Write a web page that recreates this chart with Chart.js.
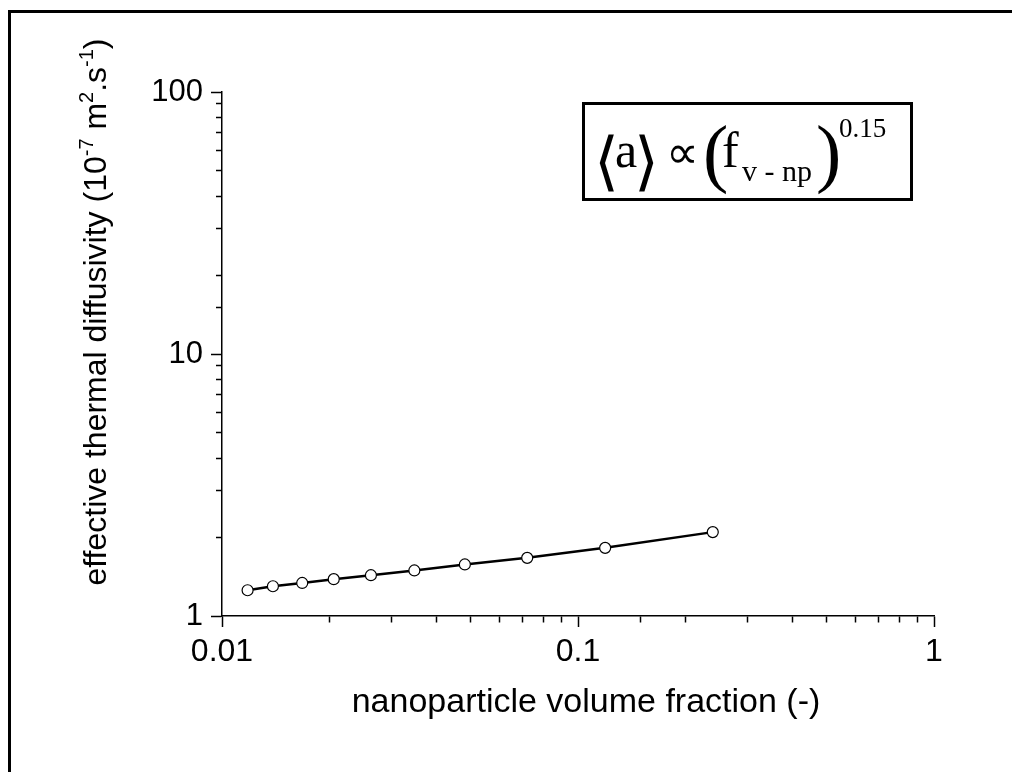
<!DOCTYPE html>
<html lang="en">
<head>
<meta charset="UTF-8" />
<title>Effective thermal diffusivity</title>
<script src="https://cdn.jsdelivr.net/npm/chart.js"></script>
<style>
  html, body { margin: 0; padding: 0; background: #fff; }
  #wrap { width: 1012px; height: 772px; }
</style>
</head>
<body>
<div id="wrap"><canvas id="chart"></canvas></div>
<script>
// data (log-log)
const volumeFraction = [0.0118, 0.0139, 0.0168, 0.0206, 0.0262, 0.0347, 0.0481, 0.0720, 0.1192, 0.2391];
const diffusivity = [1.254, 1.299, 1.337, 1.382, 1.431, 1.492, 1.573, 1.667, 1.820, 2.090];
const xTickLabels = [0.01, 0.1, 1];
const yTickLabels = [1, 10, 100];

const sans = "'Liberation Sans', Arial, sans-serif";
const serif = "'Liberation Serif', 'Times New Roman', serif";

function isLabelled(v, list) {
  return list.some(t => Math.abs(Math.log10(v) - Math.log10(t)) < 1e-6);
}

// long ticks at decades, short ones between
const MAJOR = 11, MINOR = 6;

// frame, axis titles and the formula box
const extras = {
  id: 'extras',
  afterDraw(chart) {
    const ctx = chart.ctx;
    ctx.save();
    ctx.strokeStyle = '#000';
    ctx.fillStyle = '#000';

    // partial outer frame
    ctx.lineWidth = 3;
    ctx.beginPath();
    ctx.moveTo(9.5, 772);
    ctx.lineTo(9.5, 11.5);
    ctx.lineTo(1012, 11.5);
    ctx.stroke();

    // x title
    ctx.font = '34px ' + sans;
    ctx.textAlign = 'center';
    ctx.textBaseline = 'alphabetic';
    ctx.fillText('nanoparticle volume fraction (-)', 586, 712);

    // y title with superscripts
    const parts = [
      ['effective thermal diffusivity (10', 0], ['-7', 1], [' m', 0], ['2', 1],
      ['.s', 0], ['-1', 1], [')', 0]
    ];
    const fBase = '32px ' + sans, fSup = '20px ' + sans;
    let total = 0;
    parts.forEach(p => { ctx.font = p[1] ? fSup : fBase; total += ctx.measureText(p[0]).width; });
    ctx.translate(106, 312);
    ctx.rotate(-Math.PI / 2);
    ctx.textAlign = 'left';
    let cx = -total / 2;
    parts.forEach(p => {
      ctx.font = p[1] ? fSup : fBase;
      ctx.fillText(p[0], cx, p[1] ? -13 : 0);
      cx += ctx.measureText(p[0]).width;
    });
    ctx.setTransform(1, 0, 0, 1, 0, 0);

    // formula box
    ctx.lineWidth = 3;
    ctx.strokeRect(583.5, 103.5, 328, 96);
    ctx.textAlign = 'left';
    ctx.font = '64px ' + serif;
    ctx.fillText('\u27E8', 594, 183);
    ctx.fillText('\u27E9', 634, 183);
    ctx.font = '50px ' + serif;
    ctx.fillText('a', 615, 167);
    ctx.fillText('f', 722, 167);
    ctx.font = '46px ' + serif;
    ctx.fillText('\u221D', 666, 168);
    ctx.font = '76px ' + serif;
    ctx.fillText('(', 703, 178);
    ctx.fillText(')', 816, 178);
    ctx.font = '30px ' + serif;
    ctx.fillText('v - np', 742, 181);
    ctx.font = '27px ' + serif;
    ctx.fillText('0.15', 839, 137);
    ctx.restore();
  }
};

function tickDash(first) {
  // left axis ticks are drawn from the outer end, bottom ones from the axis
  return (c) => {
    if (!c.tick) return [];
    const v = c.tick.value;
    const major = Math.abs(Math.log10(v) - Math.round(Math.log10(v))) < 1e-6;
    if (major) return [];
    return first ? [0, MAJOR - MINOR, MINOR, 0] : [MINOR, 100];
  };
}

new Chart(document.getElementById('chart'), {
  type: 'line',
  data: {
    datasets: [{
      data: volumeFraction.map((x, i) => ({ x: x, y: diffusivity[i] })),
      borderColor: '#000',
      borderWidth: 2.5,
      pointRadius: 5.5,
      pointBackgroundColor: '#fff',
      pointBorderColor: '#000',
      pointBorderWidth: 1.2,
      tension: 0,
      clip: false
    }]
  },
  options: {
    responsive: true,
    maintainAspectRatio: false,
    animation: false,
    layout: { padding: { top: 92, right: 78, left: 0, bottom: 0 } },
    plugins: { legend: { display: false }, tooltip: { enabled: false } },
    scales: {
      x: {
        type: 'logarithmic',
        min: 0.01,
        max: 1,
        afterFit: (s) => { s.height = 156; },
        border: { display: true, color: '#000', width: 1.5 },
        grid: {
          drawOnChartArea: false,
          tickLength: MAJOR,
          tickColor: '#000',
          tickWidth: 1.5,
          tickBorderDash: tickDash(false)
        },
        ticks: {
          autoSkip: false,
          maxRotation: 0,
          padding: 6,
          color: '#000',
          font: { family: sans, size: 32 },
          callback: (v) => isLabelled(v, xTickLabels) ? String(xTickLabels.find(t => isLabelled(v, [t]))) : ''
        }
      },
      y: {
        type: 'logarithmic',
        min: 1,
        max: 100,
        afterFit: (s) => { s.width = 222; },
        border: { display: true, color: '#000', width: 1.5 },
        grid: {
          drawOnChartArea: false,
          tickLength: MAJOR,
          tickColor: '#000',
          tickWidth: 1.5,
          tickBorderDash: tickDash(true)
        },
        ticks: {
          autoSkip: false,
          padding: 8,
          color: '#000',
          font: { family: sans, size: 31 },
          callback: (v) => isLabelled(v, yTickLabels) ? String(yTickLabels.find(t => isLabelled(v, [t]))) : ''
        }
      }
    }
  },
  plugins: [extras]
});
</script>
</body>
</html>
